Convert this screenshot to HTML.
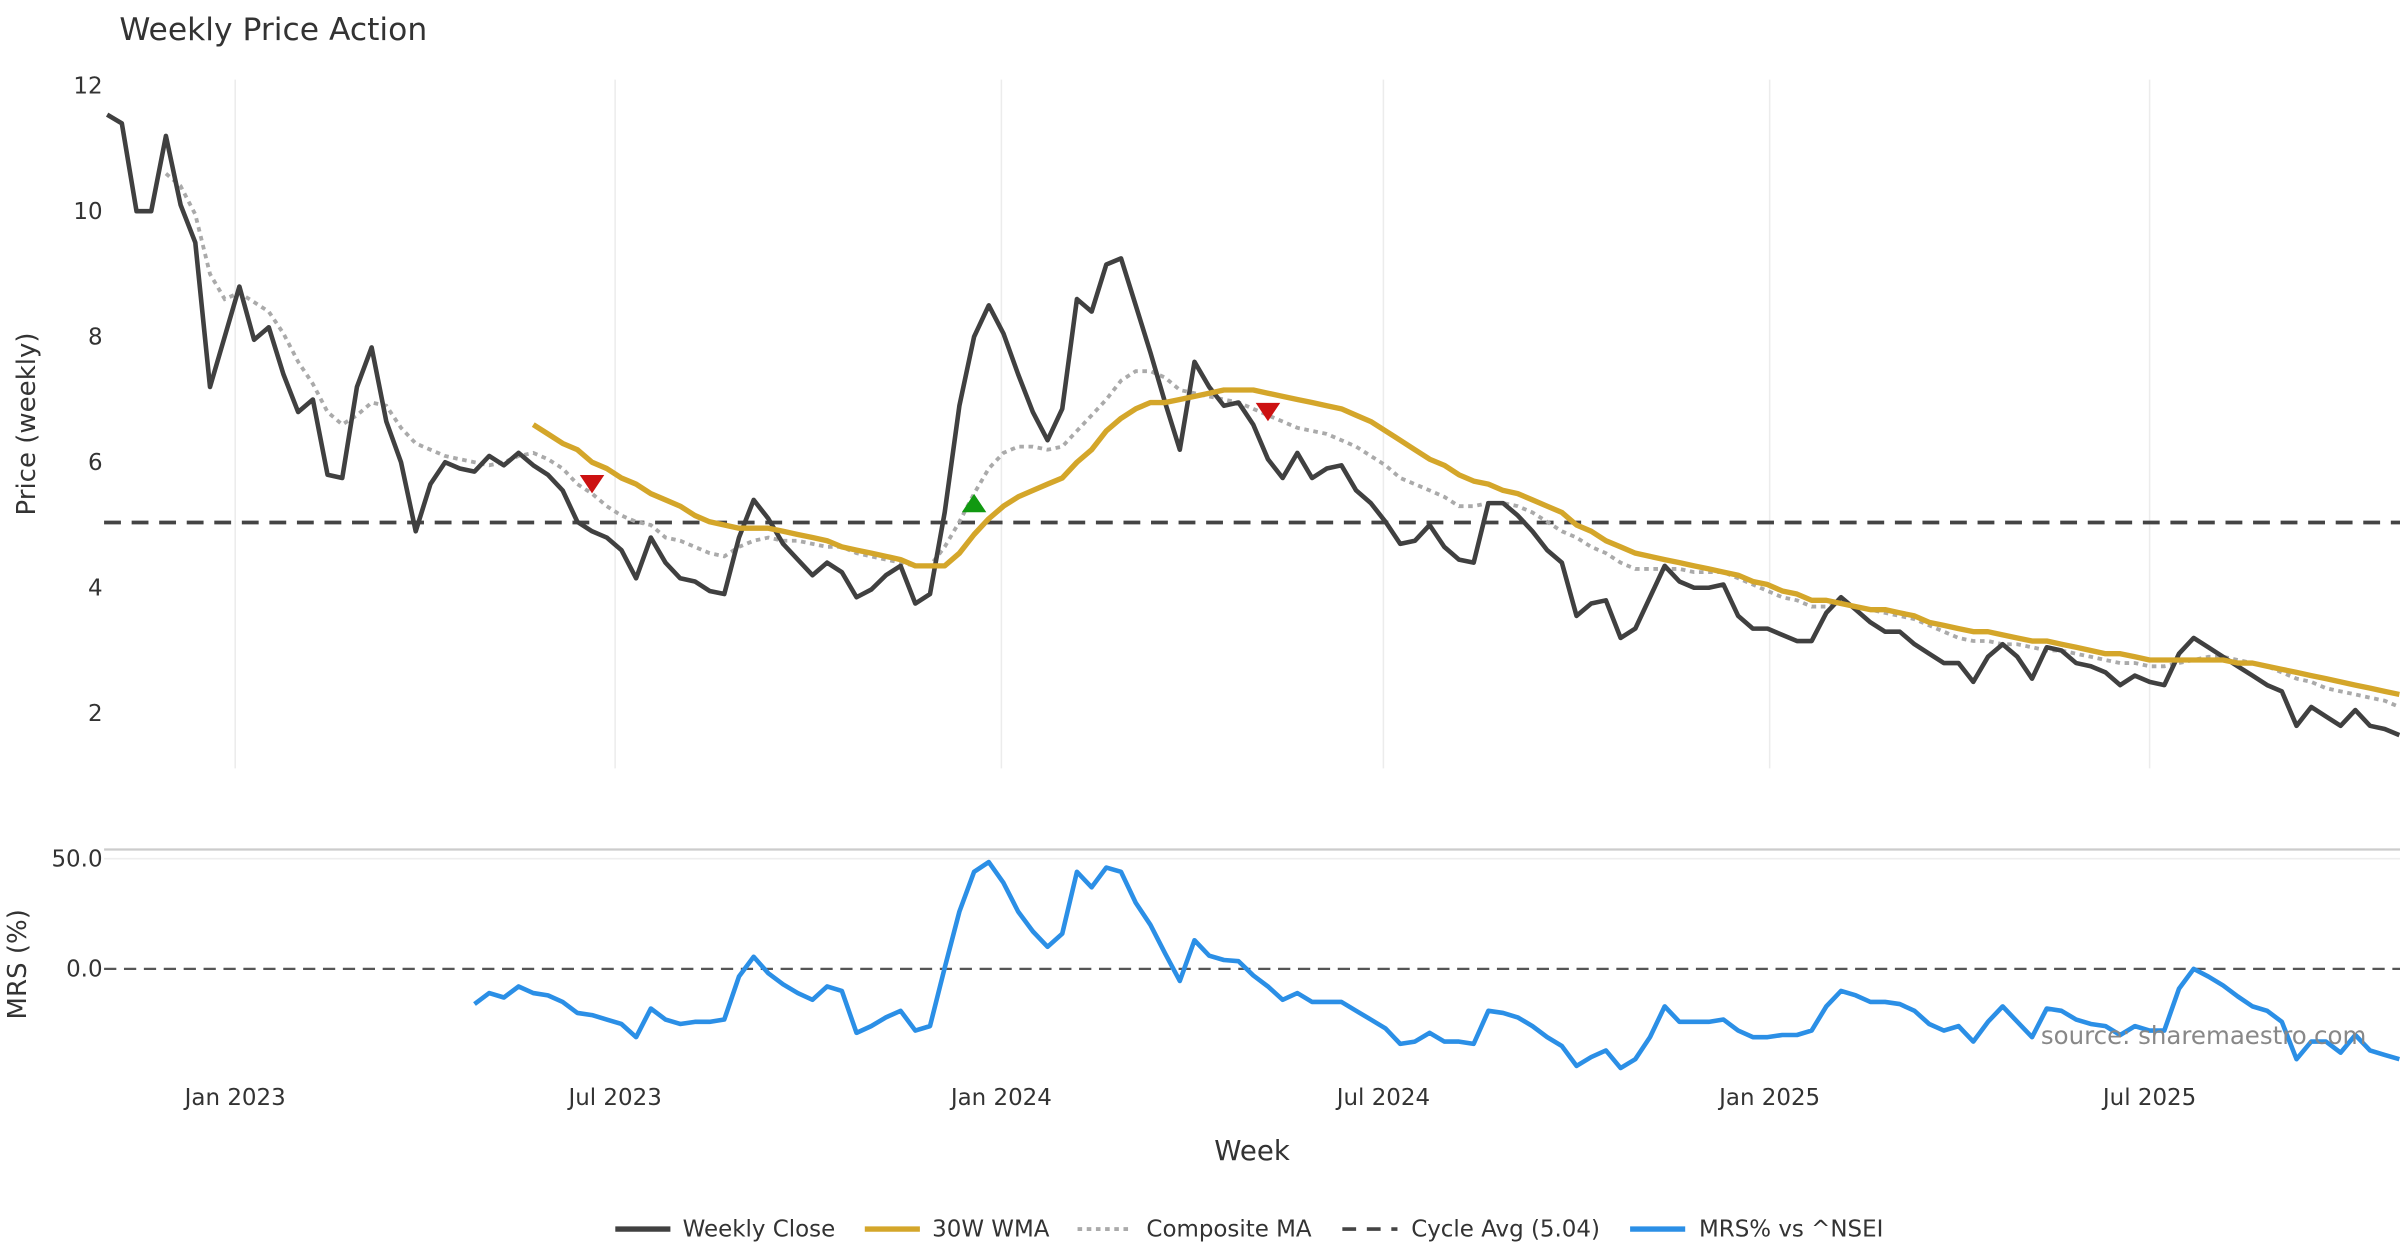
<!DOCTYPE html>
<html><head><meta charset="utf-8"><style>
html,body{margin:0;padding:0;background:#fff;}
svg{display:block;font-family:"DejaVu Sans","Liberation Sans",sans-serif;}
</style></head><body>
<svg id="chart" width="2400" height="1260" viewBox="0 0 1568 823.2" xmlns="http://www.w3.org/2000/svg">
<defs>
<clipPath id="clipTop"><rect x="68" y="40" width="1500" height="470"/></clipPath>
<clipPath id="clipBot"><rect x="68" y="556" width="1500" height="160"/></clipPath>
</defs>
<text x="78" y="26" font-size="20.5" fill="#333">Weekly Price Action</text>
<g id="gridTop"></g>
<g id="yTicks"></g>
<text transform="translate(23,277) rotate(-90)" text-anchor="middle" font-size="17" fill="#333">Price (weekly)</text>
<line id="cycleLine" x1="68" x2="1568" stroke="#444" stroke-width="2.4" stroke-dasharray="11,7"/>
<g id="seriesTop" clip-path="url(#clipTop)"></g>
<line x1="68" x2="1568" y1="555" y2="555" stroke="#ccc" stroke-width="1.5"/>
<line x1="68" x2="1568" y1="561" y2="561" stroke="#eee" stroke-width="1"/>
<text x="67" y="566" text-anchor="end" font-size="15" fill="#333">50.0</text>
<text x="67" y="638" text-anchor="end" font-size="15" fill="#333">0.0</text>
<line x1="68" x2="1568" y1="633" y2="633" stroke="#555" stroke-width="1.5" stroke-dasharray="8,5"/>
<text transform="translate(17,630) rotate(-90)" text-anchor="middle" font-size="17" fill="#333">MRS (%)</text>
<g id="seriesBot" clip-path="url(#clipBot)"></g>
<text x="1546" y="682" text-anchor="end" font-size="16" fill="#888">source: sharemaestro.com</text>
<g id="xTicks"></g>
<text x="818" y="758" text-anchor="middle" font-size="18" fill="#333">Week</text>
<g font-size="15" fill="#333">
<g><line x1="402" x2="438" y1="803" y2="803" stroke="#404040" stroke-width="3.5"/><text x="446" y="808">Weekly Close</text></g>
<g><line x1="565" x2="601" y1="803" y2="803" stroke="#D4A62A" stroke-width="3.5"/><text x="609" y="808">30W WMA</text></g>
<g><line x1="704" x2="740" y1="803" y2="803" stroke="#aaa" stroke-width="2.5" stroke-dasharray="3,3"/><text x="749" y="808">Composite MA</text></g>
<g><line x1="877" x2="913" y1="803" y2="803" stroke="#444" stroke-width="2.4" stroke-dasharray="9,7"/><text x="922" y="808">Cycle Avg (5.04)</text></g>
<g><line x1="1065" x2="1101" y1="803" y2="803" stroke="#2B8FE6" stroke-width="3.5"/><text x="1110" y="808">MRS% vs ^NSEI</text></g>
</g>
</svg>
<script>
const weeklyClose=[11.54,11.4,10.0,10.0,11.2,10.1,9.5,7.2,8.0,8.8,7.95,8.15,7.4,6.8,7.0,5.8,5.75,7.2,7.83,6.65,6.0,4.9,5.65,6.0,5.9,5.85,6.1,5.95,6.15,5.95,5.8,5.55,5.05,4.9,4.8,4.6,4.15,4.8,4.4,4.15,4.1,3.95,3.9,4.8,5.4,5.1,4.7,4.45,4.2,4.4,4.25,3.85,3.97,4.2,4.35,3.75,3.9,5.2,6.9,8.0,8.5,8.05,7.4,6.8,6.35,6.85,8.6,8.4,9.15,9.25,8.5,7.75,6.95,6.2,7.6,7.2,6.9,6.95,6.6,6.05,5.75,6.15,5.75,5.9,5.95,5.55,5.35,5.05,4.7,4.75,5.0,4.65,4.45,4.4,5.35,5.35,5.15,4.9,4.6,4.4,3.55,3.75,3.8,3.2,3.35,3.85,4.35,4.1,4.0,4.0,4.05,3.55,3.35,3.35,3.25,3.15,3.15,3.6,3.85,3.65,3.45,3.3,3.3,3.1,2.95,2.8,2.8,2.5,2.9,3.1,2.9,2.55,3.05,3.0,2.8,2.75,2.65,2.45,2.6,2.5,2.45,2.95,3.2,3.05,2.9,2.75,2.6,2.45,2.35,1.8,2.1,1.95,1.8,2.05,1.8,1.75,1.65];
const compositeMA=[10.6,10.4,9.95,9.0,8.6,8.7,8.55,8.4,8.05,7.6,7.25,6.8,6.6,6.75,6.95,6.9,6.55,6.3,6.2,6.1,6.05,6.0,5.95,6.0,6.1,6.15,6.05,5.9,5.65,5.5,5.3,5.15,5.05,5.0,4.8,4.75,4.65,4.55,4.5,4.65,4.75,4.8,4.75,4.75,4.7,4.65,4.65,4.55,4.5,4.45,4.4,4.35,4.35,4.65,5.05,5.5,5.9,6.15,6.25,6.25,6.2,6.25,6.5,6.75,7.0,7.3,7.45,7.45,7.35,7.15,7.1,7.05,7.0,6.95,6.85,6.75,6.65,6.55,6.5,6.45,6.35,6.25,6.1,5.95,5.75,5.65,5.55,5.45,5.3,5.3,5.35,5.35,5.3,5.2,5.05,4.9,4.8,4.65,4.55,4.4,4.3,4.3,4.3,4.3,4.25,4.25,4.25,4.15,4.05,3.95,3.85,3.8,3.7,3.7,3.75,3.7,3.65,3.6,3.55,3.5,3.4,3.3,3.2,3.15,3.15,3.1,3.1,3.05,3.0,3.0,2.95,2.9,2.85,2.8,2.8,2.75,2.75,2.8,2.85,2.9,2.9,2.85,2.8,2.75,2.65,2.55,2.5,2.4,2.35,2.3,2.25,2.2,2.1];
const wma30=[6.6,6.45,6.3,6.2,6.0,5.9,5.75,5.65,5.5,5.4,5.3,5.15,5.05,5.0,4.95,4.95,4.95,4.9,4.85,4.8,4.75,4.65,4.6,4.55,4.5,4.45,4.35,4.35,4.35,4.55,4.85,5.1,5.3,5.45,5.55,5.65,5.75,6.0,6.2,6.5,6.7,6.85,6.95,6.95,7.0,7.05,7.1,7.15,7.15,7.15,7.1,7.05,7.0,6.95,6.9,6.85,6.75,6.65,6.5,6.35,6.2,6.05,5.95,5.8,5.7,5.65,5.55,5.5,5.4,5.3,5.2,5.0,4.9,4.75,4.65,4.55,4.5,4.45,4.4,4.35,4.3,4.25,4.2,4.1,4.05,3.95,3.9,3.8,3.8,3.75,3.7,3.65,3.65,3.6,3.55,3.45,3.4,3.35,3.3,3.3,3.25,3.2,3.15,3.15,3.1,3.05,3.0,2.95,2.95,2.9,2.85,2.85,2.85,2.85,2.85,2.85,2.8,2.8,2.75,2.7,2.65,2.6,2.55,2.5,2.45,2.4,2.35,2.3];
const mrsPct=[-16,-11,-13,-8,-11,-12,-15,-20,-21,-23,-25,-31,-18,-23,-25,-24,-24,-23,-3.5,5.5,-2,-7,-11,-14,-8,-10,-29,-26,-22,-19,-28,-26,0.5,26,44,48.5,39,26,17,10,16,44,37,46,44,30,20,7,-5.5,13,6,4,3.5,-3,-8,-14,-11,-15,-15,-15,-19,-23,-27,-34,-33,-29,-33,-33,-34,-19,-20,-22,-26,-31,-35,-44,-40,-37,-45,-41,-31,-17,-24,-24,-24,-23,-28,-31,-31,-30,-30,-28,-17,-10,-12,-15,-15,-16,-19,-25,-28,-26,-33,-24,-17,-24,-31,-18,-19,-23,-25,-26,-30,-26,-28,-28,-9,0,-3.5,-7.5,-12.5,-17,-19,-24,-41,-33,-33,-38,-30,-37,-39,-41];
const cycleAvg=5.04;
const signalIdx=[33,59,79];
const signalVal=[5.65,5.35,6.8];
const signalType=['sell','buy','sell'];
const priceTicks=[2,4,6,8,10,12];
const xTickLabels=['Jan 2023','Jul 2023','Jan 2024','Jul 2024','Jan 2025','Jul 2025'];
const xTickDates=['2023-01-01','2023-07-01','2024-01-01','2024-07-01','2025-01-01','2025-07-01'];
const startDate='2022-11-01';

const NS='http://www.w3.org/2000/svg';
const N=weeklyClose.length;
const x=i=>70+i*9.6;
const yP=v=>56+(12-v)*41;
const yM=v=>633-v*1.44;
const xDate=d=>x((new Date(d)-new Date(startDate))/864e5/7);
function mk(tag,attrs,parent){const e=document.createElementNS(NS,tag);for(const k in attrs)e.setAttribute(k,attrs[k]);parent.appendChild(e);return e;}
function path(arr,offset,yf){return arr.map((v,j)=>(j?'L':'M')+x(j+offset).toFixed(1)+','+yf(v).toFixed(1)).join('');}
const gT=document.getElementById('gridTop'),yT=document.getElementById('yTicks'),xT=document.getElementById('xTicks');
xTickDates.forEach((d,k)=>{
  const gl=mk('line',{x1:xDate(d),x2:xDate(d),y1:52,y2:502,stroke:'#ececec','stroke-width':1},gT);
  
  
  const t=mk('text',{x:xDate(d),y:722,'text-anchor':'middle','font-size':15,fill:'#333'},xT);
  t.textContent=xTickLabels[k];
  
  
});
priceTicks.forEach(v=>{
  const t=mk('text',{x:67,y:yP(v)+5,'text-anchor':'end','font-size':15,fill:'#333'},yT);
  t.textContent=v;
  
  
});
const cl=document.getElementById('cycleLine');cl.setAttribute('y1',yP(cycleAvg));cl.setAttribute('y2',yP(cycleAvg));
const sT=document.getElementById('seriesTop'),sB=document.getElementById('seriesBot');
const p1=mk('path',{d:path(compositeMA,N-compositeMA.length,yP),fill:'none',stroke:'#aaa','stroke-width':2.5,'stroke-dasharray':'3,3'},sT);


const p2=mk('path',{d:path(weeklyClose,0,yP),fill:'none',stroke:'#404040','stroke-width':3,'stroke-linejoin':'round'},sT);


const p3=mk('path',{d:path(wma30,N-wma30.length,yP),fill:'none',stroke:'#D4A62A','stroke-width':3.5,'stroke-linejoin':'round'},sT);


signalIdx.forEach((i,k)=>{
  const cx=x(i),cy=yP(signalVal[k]);
  const pts=signalType[k]==='sell'?`${cx-8},${cy-6} ${cx+8},${cy-6} ${cx},${cy+6}`:`${cx-8},${cy+6} ${cx+8},${cy+6} ${cx},${cy-6}`;
  const m=mk('polygon',{points:pts,fill:signalType[k]==='sell'?'#CC1111':'#119911'},sT);
  
  
});
const p4=mk('path',{d:path(mrsPct,N-mrsPct.length,yM),fill:'none',stroke:'#2B8FE6','stroke-width':3,'stroke-linejoin':'round'},sB);


</script>
</body></html>
